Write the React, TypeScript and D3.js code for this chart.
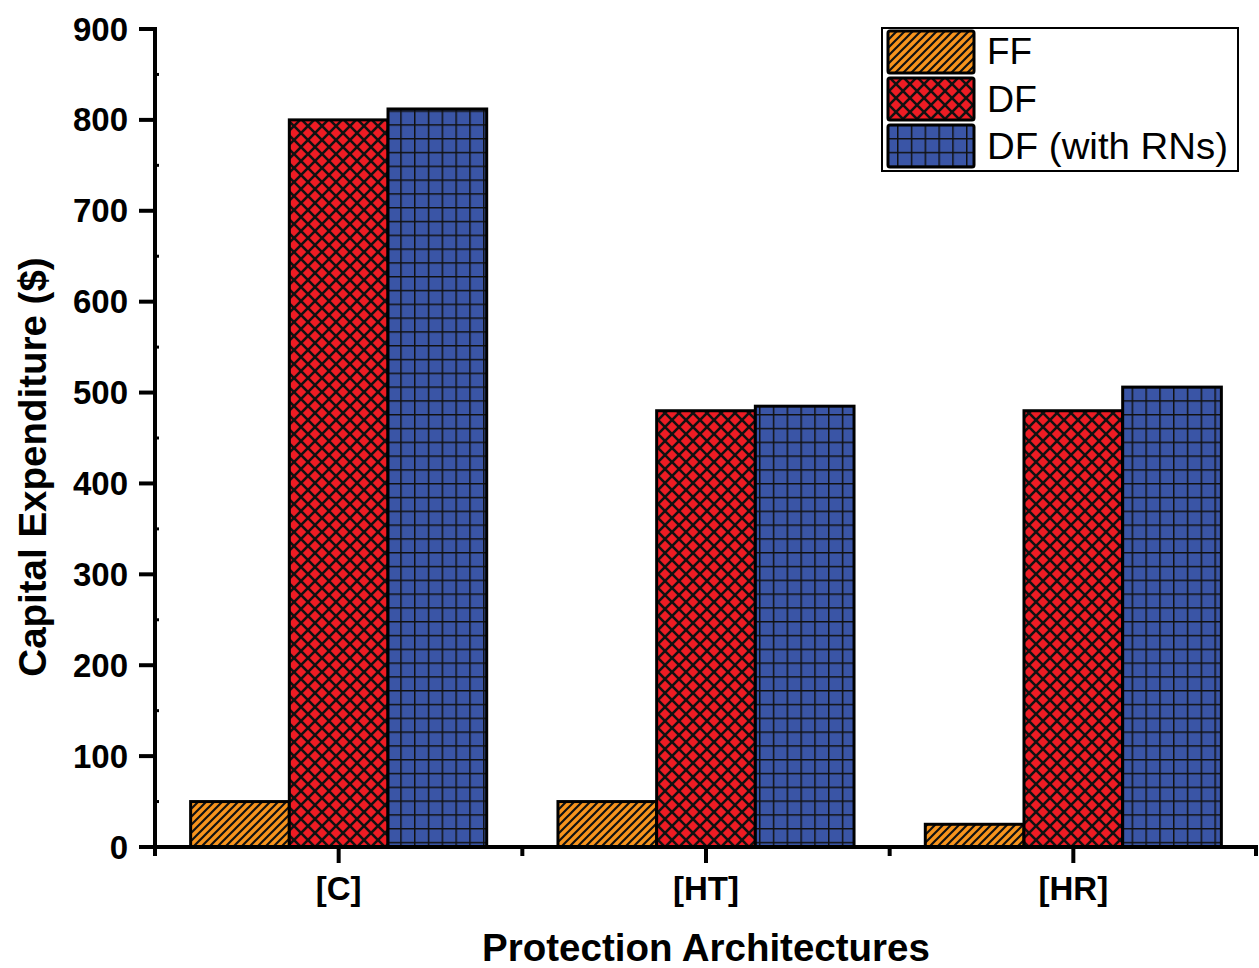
import React from "react";
import * as d3 from "d3";

const categories = ["[C]", "[HT]", "[HR]"];
const seriesNames = ["FF", "DF", "DF (with RNs)"];
const ffValues = [50, 50, 25];
const dfValues = [800, 480, 480];
const dfRnValues = [812, 485, 506];
const yTicks = [0, 100, 200, 300, 400, 500, 600, 700, 800, 900];

const W = 1259;
const H = 968;
const FONT = "'Liberation Sans', Arial, Helvetica, sans-serif";

export default function App() {
  const y = d3.scaleLinear().domain([0, 900]).range([847, 29]);
  const x = d3.scaleBand<string>().domain(categories).range([155, 1257]).paddingInner(0).paddingOuter(0);
  const groupW = x.bandwidth() * 0.806;
  const xs = d3.scaleBand<string>().domain(seriesNames).range([0, groupW]).padding(0);
  const series = [ffValues, dfValues, dfRnValues];
  const patIds = ["patFF", "patDF", "patRN"];
  const minorTicks = d3.range(50, 900, 100);
  const boundaries = [0, 1, 2, 3].map((i) => 155 + i * x.bandwidth());

  return (
    <svg width={W} height={H} style={{ position: "absolute", left: 0, top: 0, background: "#fff" }}>
      <defs>
        <pattern id="patFF" patternUnits="userSpaceOnUse" width={8} height={8}>
          <rect width={8} height={8} fill="#F7941D" />
          <path d="M-2,2 L2,-2 M0,8 L8,0 M6,10 L10,6" stroke="#111" strokeWidth={2.2} />
        </pattern>
        <pattern id="patDF" patternUnits="userSpaceOnUse" width={14} height={14}>
          <rect width={14} height={14} fill="#ED1C24" />
          <path d="M0,0 L14,14 M14,0 L0,14" stroke="#111" strokeWidth={2.6} />
        </pattern>
        <pattern id="patRN" patternUnits="userSpaceOnUse" width={13.8} height={13.8}>
          <rect width={13.8} height={13.8} fill="#3A55A6" />
          <path d="M0,0 L13.8,0 M0,0 L0,13.8" stroke="#111" strokeWidth={3} />
        </pattern>
      </defs>

      {/* bars */}
      {categories.map((c, ci) => {
        const gx = (x(c) as number) + (x.bandwidth() - groupW) / 2;
        return series.map((vals, si) => (
          <rect
            key={c + si}
            x={gx + (xs(seriesNames[si]) as number)}
            y={y(vals[ci])}
            width={xs.bandwidth()}
            height={y(0) - y(vals[ci])}
            fill={`url(#${patIds[si]})`}
            stroke="#000"
            strokeWidth={3}
          />
        ));
      })}

      {/* y axis */}
      <line x1={155} x2={155} y1={27} y2={849} stroke="#000" strokeWidth={4} />
      {yTicks.map((t) => (
        <g key={t}>
          <line x1={139} x2={155} y1={y(t)} y2={y(t)} stroke="#000" strokeWidth={4} />
          <text x={128} y={y(t)} dy="0.35em" textAnchor="end" fontFamily={FONT} fontWeight="bold" fontSize={33}>
            {t}
          </text>
        </g>
      ))}
      {minorTicks.map((t) => (
        <line key={"m" + t} x1={155} x2={159} y1={y(t)} y2={y(t)} stroke="#000" strokeWidth={3} />
      ))}

      {/* x axis */}
      <line x1={139} x2={1258} y1={847} y2={847} stroke="#000" strokeWidth={4} />
      {categories.map((c) => {
        const cx = (x(c) as number) + x.bandwidth() / 2;
        return (
          <g key={c}>
            <line x1={cx} x2={cx} y1={847} y2={863} stroke="#000" strokeWidth={4} />
            <text x={cx} y={900} textAnchor="middle" fontFamily={FONT} fontWeight="bold" fontSize={33}>
              {c}
            </text>
          </g>
        );
      })}
      {boundaries.map((bx, i) => (
        <line key={"b" + i} x1={Math.min(bx, 1256)} x2={Math.min(bx, 1256)} y1={847} y2={856} stroke="#000" strokeWidth={4} />
      ))}

      {/* axis titles */}
      <text x={706} y={961} textAnchor="middle" fontFamily={FONT} fontWeight="bold" fontSize={38.5}>
        Protection Architectures
      </text>
      <text
        transform="translate(46,467) rotate(-90)"
        textAnchor="middle"
        fontFamily={FONT}
        fontWeight="bold"
        fontSize={38.5}
      >
        Capital Expenditure ($)
      </text>

      {/* legend */}
      <rect x={882} y={28} width={356} height={143} fill="#fff" stroke="#000" strokeWidth={2} />
      {seriesNames.map((s, i) => (
        <g key={s}>
          <rect
            x={888}
            y={31 + i * 47}
            width={86}
            height={42}
            rx={2}
            fill={`url(#${patIds[i]})`}
            stroke="#000"
            strokeWidth={3}
          />
          <text
            x={987}
            y={64 + i * 47.5}
            fontFamily={FONT}
            fontSize={36}
            textLength={i === 2 ? 241 : i === 0 ? 45 : 50}
            lengthAdjust="spacingAndGlyphs"
          >
            {s}
          </text>
        </g>
      ))}
    </svg>
  );
}
